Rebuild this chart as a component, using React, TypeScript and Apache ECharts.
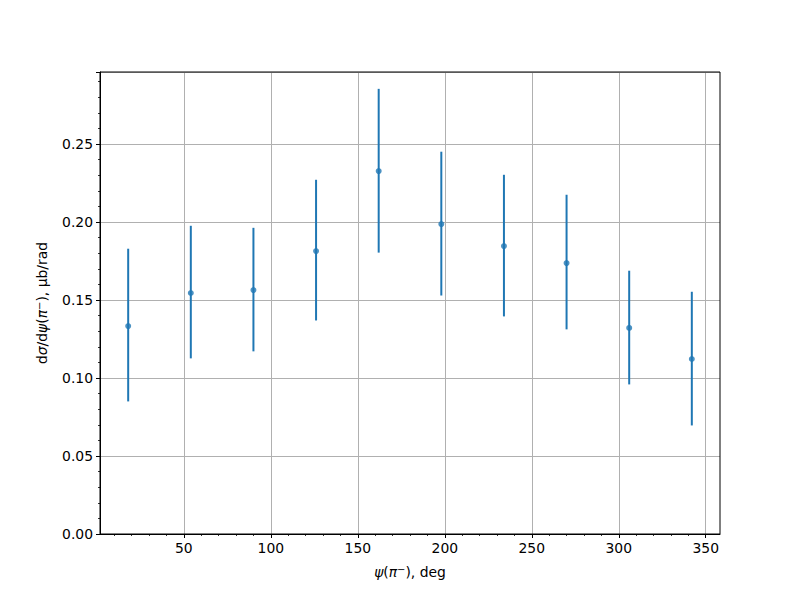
import React, { useEffect, useRef } from "react";
import * as echarts from "echarts";

const psi = [18, 54, 90, 126, 162, 198, 234, 270, 306, 342];
const dsig = [0.1333, 0.1545, 0.1564, 0.1814, 0.2327, 0.1987, 0.1846, 0.1737, 0.1321, 0.1122];
const upperBound = [0.1829, 0.1976, 0.1963, 0.2271, 0.2854, 0.2451, 0.2303, 0.2175, 0.1688, 0.1553];
const lowerBound = [0.085, 0.1126, 0.1171, 0.1369, 0.1804, 0.1529, 0.1395, 0.1312, 0.0959, 0.0696];

const xMin = 1.8;
const xMax = 358.2;
const xMajorFirst = 50;
const xMajorLast = 350;
const xMinorFirst = 10;
const yMin = 0;
const yMax = 0.2962;

const COLOR = "#1f77b4";
const FONT = "DejaVu Sans";

const PL = 100;
const PR = 720;
const TOP = 72;
const BOTTOM = 66;

export default function App() {
  const ref = useRef<HTMLDivElement>(null);
  useEffect(() => {
    if (!ref.current) return;
    const chart = echarts.init(ref.current, null, { renderer: "svg" });
    const k = (PR - PL) / (xMax - xMin);
    const px = (v: number) => PL + (v - xMin) * k;
    const points = psi.map((x, i) => [x, dsig[i]]);
    const bars = psi.map((x, i) => [x, lowerBound[i], upperBound[i]]);
    const rich = {
      i: { fontFamily: FONT, fontStyle: "italic", fontSize: 13.9, color: "#000" },
      n: { fontFamily: FONT, fontSize: 13.9, color: "#000" },
      sup: { fontFamily: FONT, fontSize: 10, color: "#000", verticalAlign: "top", padding: [0, 0, 6, 0] },
    };
    const labelStyle = { fontFamily: FONT, fontSize: 13.9, color: "#000" };
    const option: any = {
      animation: false,
      backgroundColor: "#ffffff",
      grid: [
        {
          left: PL,
          right: 800 - PR,
          top: TOP,
          bottom: BOTTOM,
          show: true,
          borderColor: "#000",
          borderWidth: 1,
          backgroundColor: "transparent",
          z: 5,
        },
        {
          left: px(xMajorFirst),
          right: 800 - px(xMajorLast),
          top: TOP,
          bottom: BOTTOM,
        },
        {
          left: px(xMinorFirst),
          right: 800 - px(xMajorLast),
          top: TOP,
          bottom: BOTTOM,
        },
      ],
      xAxis: [
        {
          type: "value",
          gridIndex: 0,
          min: xMin,
          max: xMax,
          name: "{i|ψ}{n|(}{i|π}{sup|−}{n|), deg}",
          nameLocation: "middle",
          nameGap: 30,
          nameTextStyle: { ...labelStyle, rich },
          axisLine: { show: true, onZero: false, lineStyle: { color: "#000", width: 1 } },
          axisTick: { show: false },
          axisLabel: { show: false },
          splitLine: { show: false },
          z: 5,
        },
        {
          type: "value",
          gridIndex: 1,
          min: xMajorFirst,
          max: xMajorLast,
          interval: 50,
          axisLine: { show: false, onZero: false },
          axisTick: { show: true, inside: false, length: 4, lineStyle: { color: "#000", width: 1 } },
          axisLabel: {
            show: true,
            margin: 7,
            ...labelStyle,
            formatter: (v: number) => String(Math.round(v)),
          },
          splitLine: { show: true, lineStyle: { color: "#b0b0b0", width: 1 } },
        },
        {
          type: "value",
          gridIndex: 2,
          min: xMinorFirst,
          max: xMajorLast,
          interval: 10,
          axisLine: { show: false, onZero: false },
          axisTick: { show: true, inside: false, length: 2, lineStyle: { color: "#000", width: 0.8 } },
          axisLabel: { show: false },
          splitLine: { show: false },
        },
      ],
      yAxis: [
        {
          type: "value",
          gridIndex: 0,
          min: yMin,
          max: yMax,
          interval: 0.05,
          name: "{n|d}{i|σ}{n|/d}{i|ψ}{n|(}{i|π}{sup|−}{n|), μb/rad}",
          nameLocation: "middle",
          nameGap: 50,
          nameRotate: 90,
          nameTextStyle: { ...labelStyle, rich },
          axisLine: { show: true, onZero: false, lineStyle: { color: "#000", width: 1 } },
          axisTick: { show: true, inside: false, length: 4, lineStyle: { color: "#000", width: 1 } },
          minorTick: { show: true, splitNumber: 5, length: 2, lineStyle: { color: "#000", width: 0.8 } },
          axisLabel: {
            show: true,
            margin: 7,
            ...labelStyle,
            showMaxLabel: false,
            formatter: (v: number) => v.toFixed(2),
          },
          splitLine: { show: true, lineStyle: { color: "#b0b0b0", width: 1 } },
        },
        { type: "value", gridIndex: 1, min: yMin, max: yMax, show: false, splitLine: { show: false } },
        { type: "value", gridIndex: 2, min: yMin, max: yMax, show: false, splitLine: { show: false } },
      ],
      series: [
        {
          type: "custom",
          xAxisIndex: 0,
          yAxisIndex: 0,
          data: bars,
          z: 2,
          renderItem: (params: any, api: any) => {
            const x = api.value(0);
            const lo = api.coord([x, api.value(1)]);
            const hi = api.coord([x, api.value(2)]);
            return {
              type: "line",
              shape: { x1: lo[0], y1: lo[1], x2: hi[0], y2: hi[1] },
              style: { stroke: COLOR, lineWidth: 2 },
            };
          },
        },
        {
          type: "scatter",
          xAxisIndex: 0,
          yAxisIndex: 0,
          data: points,
          z: 3,
          symbol: "circle",
          symbolSize: 6,
          itemStyle: { color: COLOR },
        },
      ],
    };
    chart.setOption(option);
    return () => chart.dispose();
  }, []);
  return (
    <div
      ref={ref}
      style={{ position: "fixed", left: 0, top: 0, width: 800, height: 600, background: "#fff" }}
    />
  );
}
